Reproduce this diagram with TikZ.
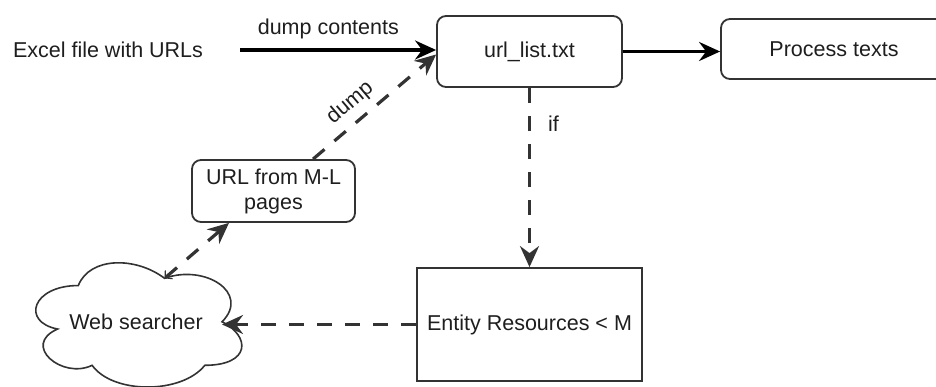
\documentclass[tikz,border=0pt]{standalone}
\usepackage{fontspec}
\setmainfont{Liberation Sans}
\usetikzlibrary{arrows.meta,calc}
\definecolor{ink}{HTML}{1E1E1E}
\definecolor{edge}{HTML}{333333}

\tikzset{
  bigtip/.tip={Stealth[length=21pt,width=19pt,inset=7pt]},
  every node/.style={font=\fontsize{21.5}{25}\selectfont, text=ink},
  box/.style={draw=edge, line width=1.8pt, inner sep=0pt},
  rbox/.style={box, rounded corners=9pt},
  flow/.style={draw=black, line width=3.2pt, -bigtip},
  dflow/.style={draw=edge, line width=3.2pt, dash pattern=on 15pt off 13pt, -bigtip},
  lbl/.style={inner sep=0pt},
  cloudline/.style={draw=edge, line width=1.6pt}
}

\begin{document}
\begin{tikzpicture}[x=1pt,y=-1pt]
\useasboundingbox (0,0) rectangle (936,387);
\clip (0,0) rectangle (936,387);

% nodes
\node[lbl] (excel) at (108,50) {Excel file with URLs};
\node[rbox, minimum width=185pt, minimum height=71pt] (url) at (529.5,51.5) {url\_list.txt};
\node[rbox, minimum width=226pt, minimum height=60pt] (proc) at (834,49) {Process texts};
\node[rbox, minimum width=163pt, minimum height=62pt, align=center] (urlml) at (273.5,191) {URL from M-L\\pages};
\node[box, minimum width=225pt, minimum height=113pt] (ent) at (529.5,324.5) {Entity Resources < M};
\node[lbl, minimum width=230pt, minimum height=145pt] (ws) at (136,322) {Web searcher};

% cloud outline around the web searcher
\begin{scope}[shift={(ws.north west)}, x=230pt, y=-145pt]
  \draw[cloudline] (0.25,0.25) .. controls (0.05,0.25) and (0,0.5) .. (0.16,0.55)
    .. controls (0,0.66) and (0.18,0.9) .. (0.31,0.8)
    .. controls (0.4,1) and (0.7,1) .. (0.8,0.8)
    .. controls (1,0.8) and (1,0.6) .. (0.875,0.5)
    .. controls (1,0.3) and (0.8,0.1) .. (0.625,0.2)
    .. controls (0.5,0.05) and (0.3,0.05) .. (0.25,0.25) -- cycle;
  \coordinate (wsTop) at (0.625,0.2);
  \coordinate (wsRight) at (0.875,0.5);
\end{scope}

% connectors
\draw[flow] ([xshift=37pt]excel.east) -- node[lbl, pos=0.45, above=9pt] {dump contents} (excel.east -| url.west);
\draw[flow] (url.east) -- (url.east -| proc.west);
\draw[dflow] (url.south) -- node[lbl, pos=0.2, right=17pt] {if} (ent.north);
\draw[dflow] (ent.west) -- (ent.west -| wsRight);
\draw[dflow, {Straight Barb[length=5pt,width=11pt,line width=1.2pt]}-bigtip]
  (wsTop) -- ($(urlml.south west)!0.23!(urlml.south east)$);
\draw[dflow] ($(urlml.north west)!0.74!(urlml.north east)$)
  -- node[lbl, pos=0.4, sloped, above=7pt] {dump} ([yshift=-3pt]url.west);
\end{tikzpicture}
\end{document}
